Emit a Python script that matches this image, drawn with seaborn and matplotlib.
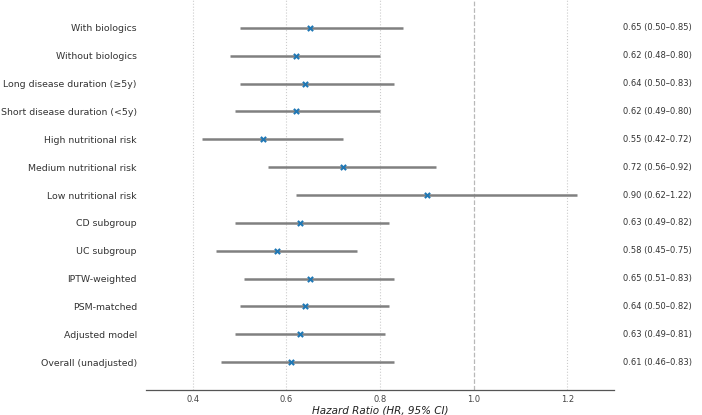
import matplotlib
matplotlib.use('Agg')
import matplotlib.pyplot as plt
import pandas as pd
import seaborn as sns

# Dados (de cima para baixo)
labels = [
    'With biologics', 'Without biologics', 'Long disease duration (≥5y)',
    'Short disease duration (<5y)', 'High nutritional risk', 'Medium nutritional risk',
    'Low nutritional risk', 'CD subgroup', 'UC subgroup', 'IPTW-weighted',
    'PSM-matched', 'Adjusted model', 'Overall (unadjusted)',
]
hr = [0.65, 0.62, 0.64, 0.62, 0.55, 0.72, 0.90, 0.63, 0.58, 0.65, 0.64, 0.63, 0.61]
ci_low = [0.50, 0.48, 0.50, 0.49, 0.42, 0.56, 0.62, 0.49, 0.45, 0.51, 0.50, 0.49, 0.46]
ci_high = [0.85, 0.80, 0.83, 0.80, 0.72, 0.92, 1.22, 0.82, 0.75, 0.83, 0.82, 0.81, 0.83]
xticks = [0.4, 0.6, 0.8, 1.0, 1.2]


def forestPlot(df):
    sns.set_style('white')
    fig = plt.figure(figsize=(7.02, 4.15), dpi=100)
    ax = fig.add_axes([0.208, 0.0602, 0.6666, 0.9398])

    # Linhas de grade verticais
    for t in xticks:
        if t == 1.0:
            ax.axvline(t, color='#b8b8b8', linestyle='--', linewidth=0.9, zorder=0)
        else:
            ax.axvline(t, color='#cccccc', linestyle=':', linewidth=0.8, zorder=0)

    # Intervalos de confiança
    ax.hlines(df['pos'], df['low'], df['high'], color='#808080', linewidth=1.8, zorder=1)

    # Estimativas pontuais
    sns.scatterplot(data=df, x='hr', y='pos', marker='x', color='#1f77b4',
                    s=14, linewidth=1.5, ax=ax, zorder=2)

    ax.set_xlim(0.3, 1.3)
    ax.set_ylim(-1, 13)
    ax.set_xticks(xticks)
    ax.set_xticklabels([f'{t:.1f}' for t in xticks], fontsize=6, color='#444444')
    ax.set_yticks(df['pos'])
    ax.set_yticklabels(df['label'], fontsize=6.75, color='#333333')
    ax.tick_params(axis='y', length=0, pad=6.5)
    ax.tick_params(axis='x', length=2, width=0.6, color='#888888', pad=1.5)

    for side in ['left', 'right', 'top']:
        ax.spines[side].set_visible(False)
    ax.spines['bottom'].set_color('#555555')
    ax.spines['bottom'].set_linewidth(0.9)

    ax.set_xlabel('Hazard Ratio (HR, 95% CI)', fontsize=7.5, style='italic',
                  color='#222222', labelpad=1)
    ax.set_ylabel('')

    # Texto com HR e IC à direita
    for _, row in df.iterrows():
        ax.text(1.019, row['pos'], f"{row['hr']:.2f} ({row['low']:.2f}–{row['high']:.2f})",
                transform=ax.get_yaxis_transform(), va='center', ha='left',
                fontsize=6, color='#333333')

    fig.savefig('out.png', dpi=100)


def main():
    n = len(labels)
    df = pd.DataFrame({
        'label': labels,
        'hr': hr,
        'low': ci_low,
        'high': ci_high,
        'pos': list(range(n - 1, -1, -1)),
    })
    forestPlot(df)


if __name__ == '__main__':
    main()
